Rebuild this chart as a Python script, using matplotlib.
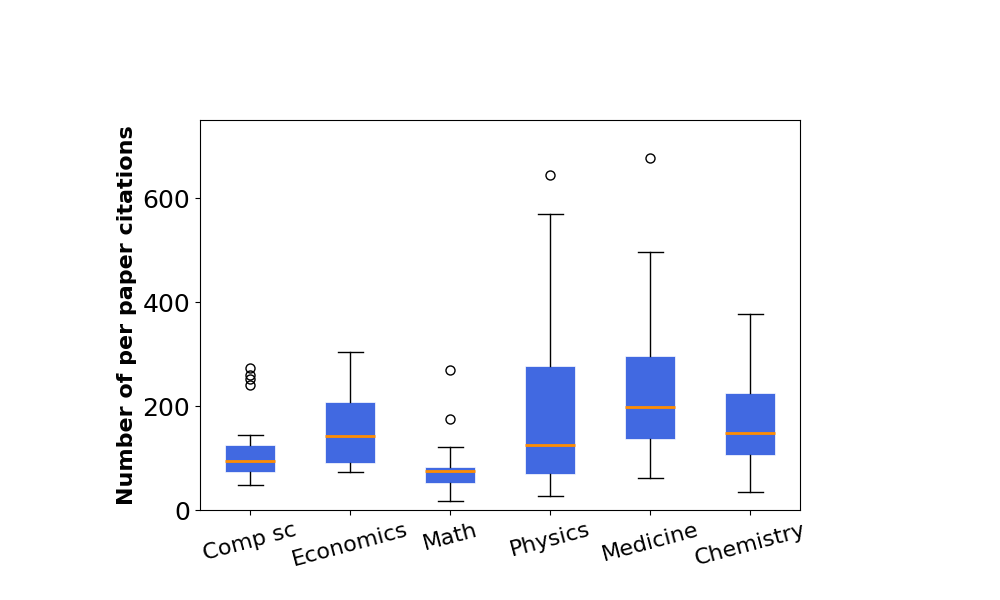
import matplotlib
matplotlib.use("Agg")
import matplotlib.pyplot as plt

categories = ["Comp sc", "Economics", "Math", "Physics", "Medicine", "Chemistry"]
whisker_low = [48, 73, 17, 26, 61, 35]
q1 = [73, 91, 51, 69, 136, 105]
median = [94, 142, 75, 125, 198, 148]
q3 = [125, 207, 82, 276, 297, 225]
whisker_high = [144, 304, 121, 570, 497, 376]
fliers = [[241, 251, 260, 273], [], [175, 269], [644], [676], []]

stats = []
for i, name in enumerate(categories):
    stats.append(dict(label=name, whislo=whisker_low[i], q1=q1[i], med=median[i],
                      q3=q3[i], whishi=whisker_high[i], fliers=fliers[i]))

fig, ax = plt.subplots(figsize=(10, 6), dpi=100)
fig.subplots_adjust(left=0.2, right=0.8, bottom=0.15, top=0.8)

ax.bxp(stats, patch_artist=True, widths=0.5,
       boxprops=dict(facecolor="royalblue", edgecolor="white", linewidth=0.5),
       medianprops=dict(color="darkorange", linewidth=2),
       whiskerprops=dict(color="black", linewidth=1),
       capprops=dict(color="black", linewidth=1),
       flierprops=dict(marker="o", markerfacecolor="none", markeredgecolor="black", markersize=6.5))

ax.set_ylim(0, 750)
ax.set_xlim(0.5, 6.5)
ax.set_yticks([0, 200, 400, 600])
ax.tick_params(axis="y", labelsize=18)
ax.tick_params(axis="x", labelsize=16, labelrotation=15)
ax.set_ylabel("Number of per paper citations", fontsize=16, fontweight="bold")

fig.savefig("out.png", dpi=100)
